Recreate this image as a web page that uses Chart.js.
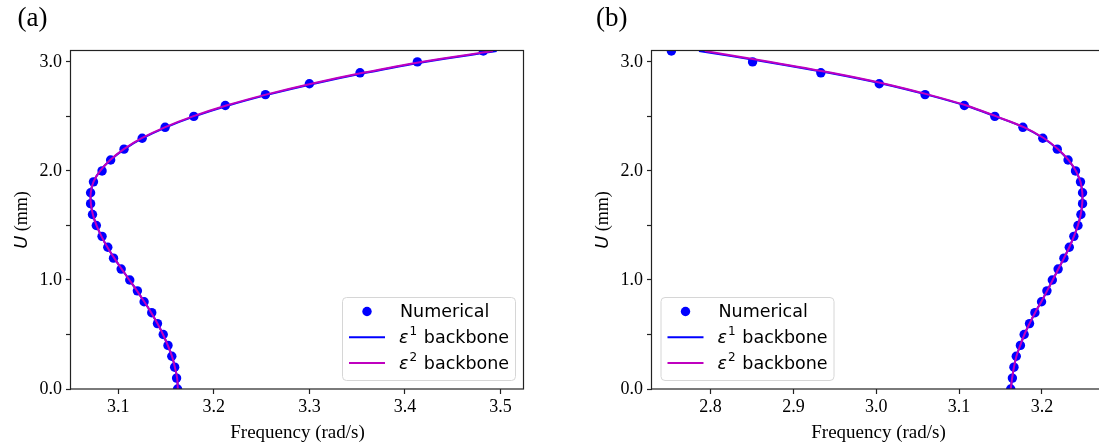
<!DOCTYPE html>
<html>
<head>
<meta charset="utf-8">
<script src="https://cdn.jsdelivr.net/npm/chart.js@4.4.0/dist/chart.umd.min.js"></script>
<style>
  html, body { margin: 0; padding: 0; background: #fff; }
  body { width: 1099px; height: 446px; overflow: hidden; position: relative; }
  canvas { position: absolute; top: 0; }
  #chartA { left: 0; }
  #chartB { left: 550px; }
</style>
</head>
<body>
<canvas id="chartA" width="550" height="446"></canvas>
<canvas id="chartB" width="570" height="446"></canvas>
<script>
// Amplitude levels U (mm), shared by every series
const U_LEVELS = [0.0, 0.1, 0.2, 0.3, 0.4, 0.5, 0.6, 0.7, 0.8, 0.9,
                  1.0, 1.1, 1.2, 1.3, 1.4, 1.5, 1.6, 1.7, 1.8, 1.9,
                  2.0, 2.1, 2.2, 2.3, 2.4, 2.5, 2.6, 2.7, 2.8, 2.9,
                  3.0, 3.1];

// Panel (a): frequency (rad/s) at each level
const A_NUMERICAL = [3.1620, 3.1610, 3.1590, 3.1560, 3.1520, 3.1470, 3.1410, 3.1350, 3.1270, 3.1200,
                     3.1120, 3.1030, 3.0950, 3.0890, 3.0830, 3.0770, 3.0730, 3.0710, 3.0710, 3.0740,
                     3.0830, 3.0920, 3.1060, 3.1250, 3.1490, 3.1790, 3.2120, 3.2540, 3.3000, 3.3530,
                     3.4130, 3.4820];
const A_EPS1 = [3.1623, 3.1616, 3.1592, 3.1562, 3.1518, 3.1468, 3.1410, 3.1345, 3.1272, 3.1196,
                3.1116, 3.1036, 3.0958, 3.0886, 3.0824, 3.0772, 3.0734, 3.0713, 3.0712, 3.0740,
                3.0810, 3.0918, 3.1065, 3.1255, 3.1498, 3.1797, 3.2150, 3.2568, 3.3047, 3.3590,
                3.4205, 3.4960];
const A_EPS2 = [3.1623, 3.1616, 3.1592, 3.1562, 3.1518, 3.1468, 3.1410, 3.1345, 3.1272, 3.1196,
                3.1116, 3.1036, 3.0958, 3.0886, 3.0824, 3.0772, 3.0734, 3.0713, 3.0712, 3.0740,
                3.0810, 3.0915, 3.1058, 3.1245, 3.1485, 3.1780, 3.2130, 3.2545, 3.3020, 3.3560,
                3.4170, 3.4920];
const A_X_TICKS = [3.1, 3.2, 3.3, 3.4, 3.5];
const A_X_RANGE = [3.0505, 3.5246];

// Panel (b)
const B_NUMERICAL = [3.1623, 3.1643, 3.1662, 3.1690, 3.1740, 3.1785, 3.1850, 3.1915, 3.1995, 3.2060,
                     3.2125, 3.2195, 3.2265, 3.2330, 3.2385, 3.2435, 3.2470, 3.2490, 3.2490, 3.2465,
                     3.2405, 3.2315, 3.2185, 3.2010, 3.1770, 3.1431, 3.1063, 3.0589, 3.0036, 2.9331,
                     2.8507, 2.7527];
const B_EPS1 = [3.1623, 3.1640, 3.1662, 3.1692, 3.1738, 3.1788, 3.1850, 3.1917, 3.1992, 3.2062,
                3.2130, 3.2198, 3.2266, 3.2330, 3.2386, 3.2434, 3.2468, 3.2486, 3.2486, 3.2463,
                3.2408, 3.2318, 3.2190, 3.2018, 3.1780, 3.1440, 3.1075, 3.0610, 3.0075, 2.9425,
                2.8680, 2.7860];
const B_EPS2 = [3.1623, 3.1640, 3.1662, 3.1692, 3.1738, 3.1788, 3.1850, 3.1917, 3.1992, 3.2062,
                3.2130, 3.2198, 3.2266, 3.2330, 3.2386, 3.2434, 3.2468, 3.2486, 3.2487, 3.2465,
                3.2410, 3.2322, 3.2195, 3.2025, 3.1787, 3.1450, 3.1090, 3.0630, 3.0100, 2.9460,
                2.8725, 2.7930];
const B_X_TICKS = [2.8, 2.9, 3.0, 3.1, 3.2];
const B_X_RANGE = [2.7293, 3.2761];

// Shared y axis
const Y_TICKS = [0.0, 0.5, 1.0, 1.5, 2.0, 2.5, 3.0];
const Y_RANGE = [0, 3.1];

const SERIES_LABELS = ['Numerical', 'ε^1 backbone', 'ε^2 backbone'];
const SERIES_COLORS = ['#0000ff', '#0000ff', '#bf00bf'];

const SERIF = "'Liberation Serif', 'Times New Roman', serif";
const SANS = "'DejaVu Sans', sans-serif";
const POINT_R = 4.7;
const LINE_W = 2;


function toPoints(freqs) {
   return freqs.map((f, i) => ({ x: f, y: U_LEVELS[i] }));
}


// Axes frame drawn over the curves, like matplotlib spines
const framePlugin = {
   id: 'frame',
   afterDatasetsDraw(chart) {
       const a = chart.chartArea;
       const ctx = chart.ctx;
       ctx.save();
       ctx.strokeStyle = '#222';
       ctx.lineWidth = 1.2;
       ctx.strokeRect(a.left - 0.5, a.top - 0.5, a.right - a.left, a.bottom - a.top + 0.5);
       ctx.restore();
   }
};


// Legend box, axis titles and panel letter
const decorPlugin = {
   id: 'decor',
   afterDraw(chart, args, opts) {
       const a = chart.chartArea;
       const ctx = chart.ctx;
       ctx.save();

       // panel letter
       ctx.fillStyle = '#000';
       ctx.font = '27px ' + SERIF;
       ctx.textBaseline = 'alphabetic';
       ctx.textAlign = 'left';
       ctx.fillText(opts.panel, a.left - opts.panelDx, 26);

       // x title
       ctx.font = '19px ' + SERIF;
       ctx.textAlign = 'center';
       ctx.textBaseline = 'middle';
       ctx.fillText('Frequency (rad/s)', (a.left + a.right) / 2, 433);

       // y title: italic U then (mm)
       ctx.save();
       ctx.translate(a.left - 50, (a.top + a.bottom) / 2);
       ctx.rotate(-Math.PI / 2);
       ctx.textAlign = 'left';
       ctx.textBaseline = 'alphabetic';
       const fontU = 'italic 18px ' + SANS;
       const fontRest = '18px ' + SERIF;
       ctx.font = fontU;
       const wU = ctx.measureText('U').width;
       ctx.font = fontRest;
       const wRest = ctx.measureText(' (mm)').width;
       const x0 = -(wU + wRest) / 2;
       ctx.font = fontU;
       ctx.fillText('U', x0, 6);
       ctx.font = fontRest;
       ctx.fillText(' (mm)', x0 + wU, 6);
       ctx.restore();

       // legend
       const w = 173, h = 83;
       const left = opts.legendSide === 'right' ? a.right - 9 - w : a.left + 8.5;
       const top = a.bottom - 9 - h;
       ctx.beginPath();
       ctx.roundRect(left + 0.5, top + 0.5, w, h, 4);
       ctx.fillStyle = 'rgba(255,255,255,0.85)';
       ctx.fill();
       ctx.strokeStyle = '#d6d6d6';
       ctx.lineWidth = 1;
       ctx.stroke();

       const baselines = [20, 45.8, 71.6];
       SERIES_LABELS.forEach((label, i) => {
           const base = top + baselines[i];
           const cy = base - 5.5;
           if (i === 0) {
               ctx.beginPath();
               ctx.arc(left + 25, cy, POINT_R, 0, Math.PI * 2);
               ctx.fillStyle = SERIES_COLORS[i];
               ctx.fill();
           } else {
               ctx.beginPath();
               ctx.moveTo(left + 7, cy);
               ctx.lineTo(left + 43, cy);
               ctx.strokeStyle = SERIES_COLORS[i];
               ctx.lineWidth = LINE_W;
               ctx.stroke();
           }
           const tx = left + 58;
           ctx.fillStyle = '#000';
           ctx.textAlign = 'left';
           ctx.textBaseline = 'alphabetic';
           const m = label.match(/^ε\^(\d) (.*)$/);
           if (m) {
               ctx.font = 'italic 17.5px ' + SANS;
               ctx.fillText('ε', tx - 1, base);
               const we = ctx.measureText('ε').width;
               ctx.font = '12px ' + SANS;
               ctx.fillText(m[1], tx + we, base - 7.5);
               ctx.font = '17.5px ' + SANS;
               ctx.fillText(m[2], tx + 23.8, base);
           } else {
               ctx.font = '17.5px ' + SANS;
               ctx.fillText(label, tx, base);
           }
       });

       ctx.restore();
   }
};


function makeChart(canvasId, series, xTicks, xRange, yAxisWidth, rightPad, panel, panelDx, legendSide) {
   const tickFont = { family: SERIF, size: 18 };
   const grid = {
       display: true,
       drawOnChartArea: false,
       drawTicks: true,
       tickLength: 5,
       tickColor: '#222',
       tickWidth: 1.2
   };
   return new Chart(document.getElementById(canvasId), {
       type: 'scatter',
       data: {
           datasets: [
               {
                   label: SERIES_LABELS[0],
                   data: toPoints(series[0]),
                   pointRadius: POINT_R,
                   pointBackgroundColor: SERIES_COLORS[0],
                   pointBorderWidth: 0,
                   showLine: false,
                   clip: 0,
                   order: 3
               },
               {
                   label: SERIES_LABELS[1],
                   data: toPoints(series[1]),
                   showLine: true,
                   pointRadius: 0,
                   borderColor: SERIES_COLORS[1],
                   borderWidth: LINE_W,
                   tension: 0.35,
                   clip: 0,
                   order: 2
               },
               {
                   label: SERIES_LABELS[2],
                   data: toPoints(series[2]),
                   showLine: true,
                   pointRadius: 0,
                   borderColor: SERIES_COLORS[2],
                   borderWidth: LINE_W,
                   tension: 0.35,
                   clip: 0,
                   order: 1
               }
           ]
       },
       options: {
           responsive: false,
           animation: false,
           events: [],
           layout: { padding: { left: 0, right: rightPad, top: 51, bottom: 0 } },
           plugins: {
               legend: { display: false },
               tooltip: { enabled: false },
               decor: { panel: panel, panelDx: panelDx, legendSide: legendSide }
           },
           scales: {
               x: {
                   type: 'linear',
                   min: xRange[0],
                   max: xRange[1],
                   border: { display: false },
                   grid: grid,
                   afterBuildTicks: s => { s.ticks = xTicks.map(v => ({ value: v })); },
                   afterFit: s => { s.height = 57; },
                   ticks: {
                       autoSkip: false,
                       maxRotation: 0,
                       padding: 2,
                       color: '#000',
                       font: tickFont,
                       callback: v => v.toFixed(1)
                   }
               },
               y: {
                   type: 'linear',
                   min: Y_RANGE[0],
                   max: Y_RANGE[1],
                   border: { display: false },
                   grid: grid,
                   afterBuildTicks: s => { s.ticks = Y_TICKS.map(v => ({ value: v })); },
                   afterFit: s => { s.width = yAxisWidth; },
                   ticks: {
                       autoSkip: false,
                       padding: 4,
                       color: '#000',
                       font: tickFont,
                       callback: v => (Math.abs(v - Math.round(v)) < 1e-9 ? v.toFixed(1) : '')
                   }
               }
           }
       },
       plugins: [framePlugin, decorPlugin]
   });
}


makeChart('chartA', [A_NUMERICAL, A_EPS1, A_EPS2], A_X_TICKS, A_X_RANGE, 71, 26, '(a)', 53.5, 'right');
makeChart('chartB', [B_NUMERICAL, B_EPS1, B_EPS2], B_X_TICKS, B_X_RANGE, 102, 15, '(b)', 56, 'left');
</script>
</body>
</html>
